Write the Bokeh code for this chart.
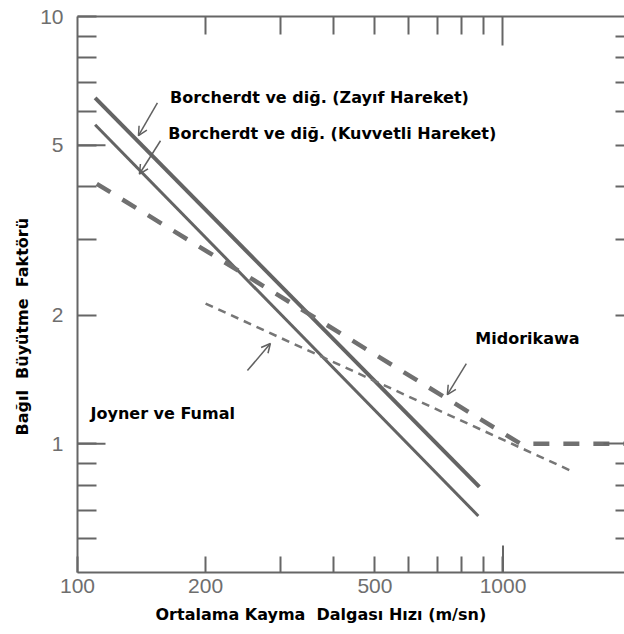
import math
from bokeh.plotting import figure
from bokeh.models import LogAxis, FixedTicker, Title, Arrow, OpenHead
from bokeh.core.properties import value
from bokeh.embed import file_html
from bokeh.resources import INLINE

# ---- data ----
zayif_v = [110, 880]
zayif_a = [6.45, 0.793]
kuvvetli_v = [110, 875]
kuvvetli_a = [5.58, 0.678]
midorikawa_v = [111, 1100, 2000]
midorikawa_a = [4.06, 1.0, 1.0]
joyner_v = [200, 1447]
joyner_a = [2.13, 0.864]

x_label_ticks = [100, 200, 500, 1000]
x_minor_ticks = [300, 400, 600, 700, 800, 900]
y_label_ticks = [1, 2, 5, 10]
y_minor_ticks = [0.6, 0.7, 0.8, 0.9, 3, 4, 6, 7, 8, 9]

label_texts = ["Borcherdt ve diğ. (Zayıf Hareket)",
               "Borcherdt ve diğ. (Kuvvetli Hareket)",
               "Midorikawa",
               "Joyner ve Fumal"]
label_v = [165, 163.5, 861, 107.3]
label_a = [6.45, 5.31, 1.764, 1.176]

# arrows: (x_start, y_start, x_end, y_end) in data units
arrows = [
    (154.1, 6.28, 139.1, 5.26),
    (156.7, 5.12, 139.8, 4.28),
    (820, 1.541, 740, 1.303),
    (250.8, 1.484, 284, 1.717),
]

X_MIN, X_MAX = 100, 1930
Y_MIN, Y_MAX = 0.5, 10

W, H = 624, 634
ML, MT, MB, MR = 77, 16, 62, 0

GREY = "#666666"
TICK_FONT = "Liberation Sans"
BOLD_FONT = "DejaVu Sans"
NB = "\u00a0"

p = figure(width=W, height=H, x_axis_type="log", y_axis_type="log",
           x_range=(X_MIN, X_MAX), y_range=(Y_MIN, Y_MAX),
           output_backend="svg", toolbar_location=None,
           min_border_left=ML, min_border_top=MT, min_border_bottom=MB,
           min_border_right=MR)
p.outline_line_color = None
p.xgrid.visible = False
p.ygrid.visible = False
p.background_fill_color = "white"
p.border_fill_color = "white"


def style_axis(ax):
    ax.axis_line_color = GREY
    ax.axis_line_width = 2
    ax.major_tick_line_color = GREY
    ax.major_tick_line_width = 2
    ax.minor_tick_line_color = GREY
    ax.minor_tick_line_width = 2
    ax.major_tick_out = 0
    ax.minor_tick_out = 0
    ax.major_label_text_font = TICK_FONT
    ax.major_label_text_font_size = "21px"
    ax.major_label_text_color = "#6e6e6e"


# bottom axis
xa = p.xaxis[0]
style_axis(xa)
xa.ticker = FixedTicker(ticks=x_label_ticks, minor_ticks=x_minor_ticks)
xa.major_tick_in = 16
xa.minor_tick_in = 16
xa.major_label_standoff = 6
xa.major_label_overrides = {t: str(t) for t in x_label_ticks}

# left axis
ya = p.yaxis[0]
style_axis(ya)
ya.ticker = FixedTicker(ticks=y_label_ticks, minor_ticks=y_minor_ticks)
ya.major_tick_in = 19
ya.minor_tick_in = 19
ya.major_label_standoff = 14
ya.major_label_overrides = {t: str(t) for t in y_label_ticks}

# top axis
ta = LogAxis(ticker=FixedTicker(ticks=[1000], minor_ticks=[200] + x_minor_ticks + [500]))
style_axis(ta)
ta.major_tick_in = 29
ta.minor_tick_in = 18
ta.major_label_standoff = 0
ta.major_label_overrides = {1000: ""}
ta.major_label_text_font_size = "0px"
p.add_layout(ta, "above")

# right axis (cut off at the window edge in the reference)
ra = LogAxis(ticker=FixedTicker(ticks=[1], minor_ticks=[0.6, 0.7, 0.8, 0.9, 2, 3, 4, 5, 6, 7, 8, 9]))
style_axis(ra)
ra.axis_line_color = None
ra.major_tick_in = 21
ra.minor_tick_in = 9
ra.major_label_standoff = 0
ra.major_label_overrides = {1: ""}
ra.major_label_text_font_size = "0px"
p.add_layout(ra, "right")

# longer ticks on left (1, 5) and bottom (1000)
frame_h = H - MT - MB
dec_px_y = frame_h / math.log10(Y_MAX / Y_MIN)
frame_w = W - ML - MR
dec_px_x = frame_w / math.log10(X_MAX / X_MIN)
long_left = [1, 5]
p.segment(x0=[X_MIN] * len(long_left), y0=long_left,
          x1=[X_MIN * 10 ** (28 / dec_px_x)] * len(long_left), y1=long_left,
          line_color=GREY, line_width=2)
p.segment(x0=[1000], y0=[Y_MIN], x1=[1000], y1=[Y_MIN * 10 ** (27 / dec_px_y)],
          line_color=GREY, line_width=2)

# series
p.line(zayif_v, zayif_a, line_color="#646464", line_width=4)
p.line(kuvvetli_v, kuvvetli_a, line_color="#646464", line_width=3)
p.line(midorikawa_v, midorikawa_a, line_color="#707070", line_width=4.5,
       line_dash="16 14")
p.line(joyner_v, joyner_a, line_color="#767676", line_width=2.5,
       line_dash="8 6")

# arrows
for xs, ys, xe, ye in arrows:
    p.add_layout(Arrow(end=OpenHead(size=9, line_color="#606060", line_width=1.5),
                       x_start=xs, y_start=ys, x_end=xe, y_end=ye,
                       line_color="#606060", line_width=1.5))

# labels
p.text(x=label_v, y=label_a, text=label_texts,
       text_font=value(BOLD_FONT), text_font_style="bold",
       text_font_size="16px", text_baseline="middle", text_align="left",
       text_color="black")

# axis titles
p.add_layout(Title(text="Ortalama Kayma" + NB + NB + "Dalgası Hızı (m/sn)", align="left",
                   text_font=BOLD_FONT, text_font_style="bold",
                   text_font_size="16px", text_color="black",
                   offset=78, standoff=15), "below")
p.add_layout(Title(text="Bağıl" + NB + NB + "Büyütme" + NB + NB + "Faktörü", align="left",
                   text_font=BOLD_FONT, text_font_style="bold",
                   text_font_size="16px", text_color="black",
                   offset=137, standoff=11), "left")

open("out.html", "w").write(file_html(p, INLINE))
